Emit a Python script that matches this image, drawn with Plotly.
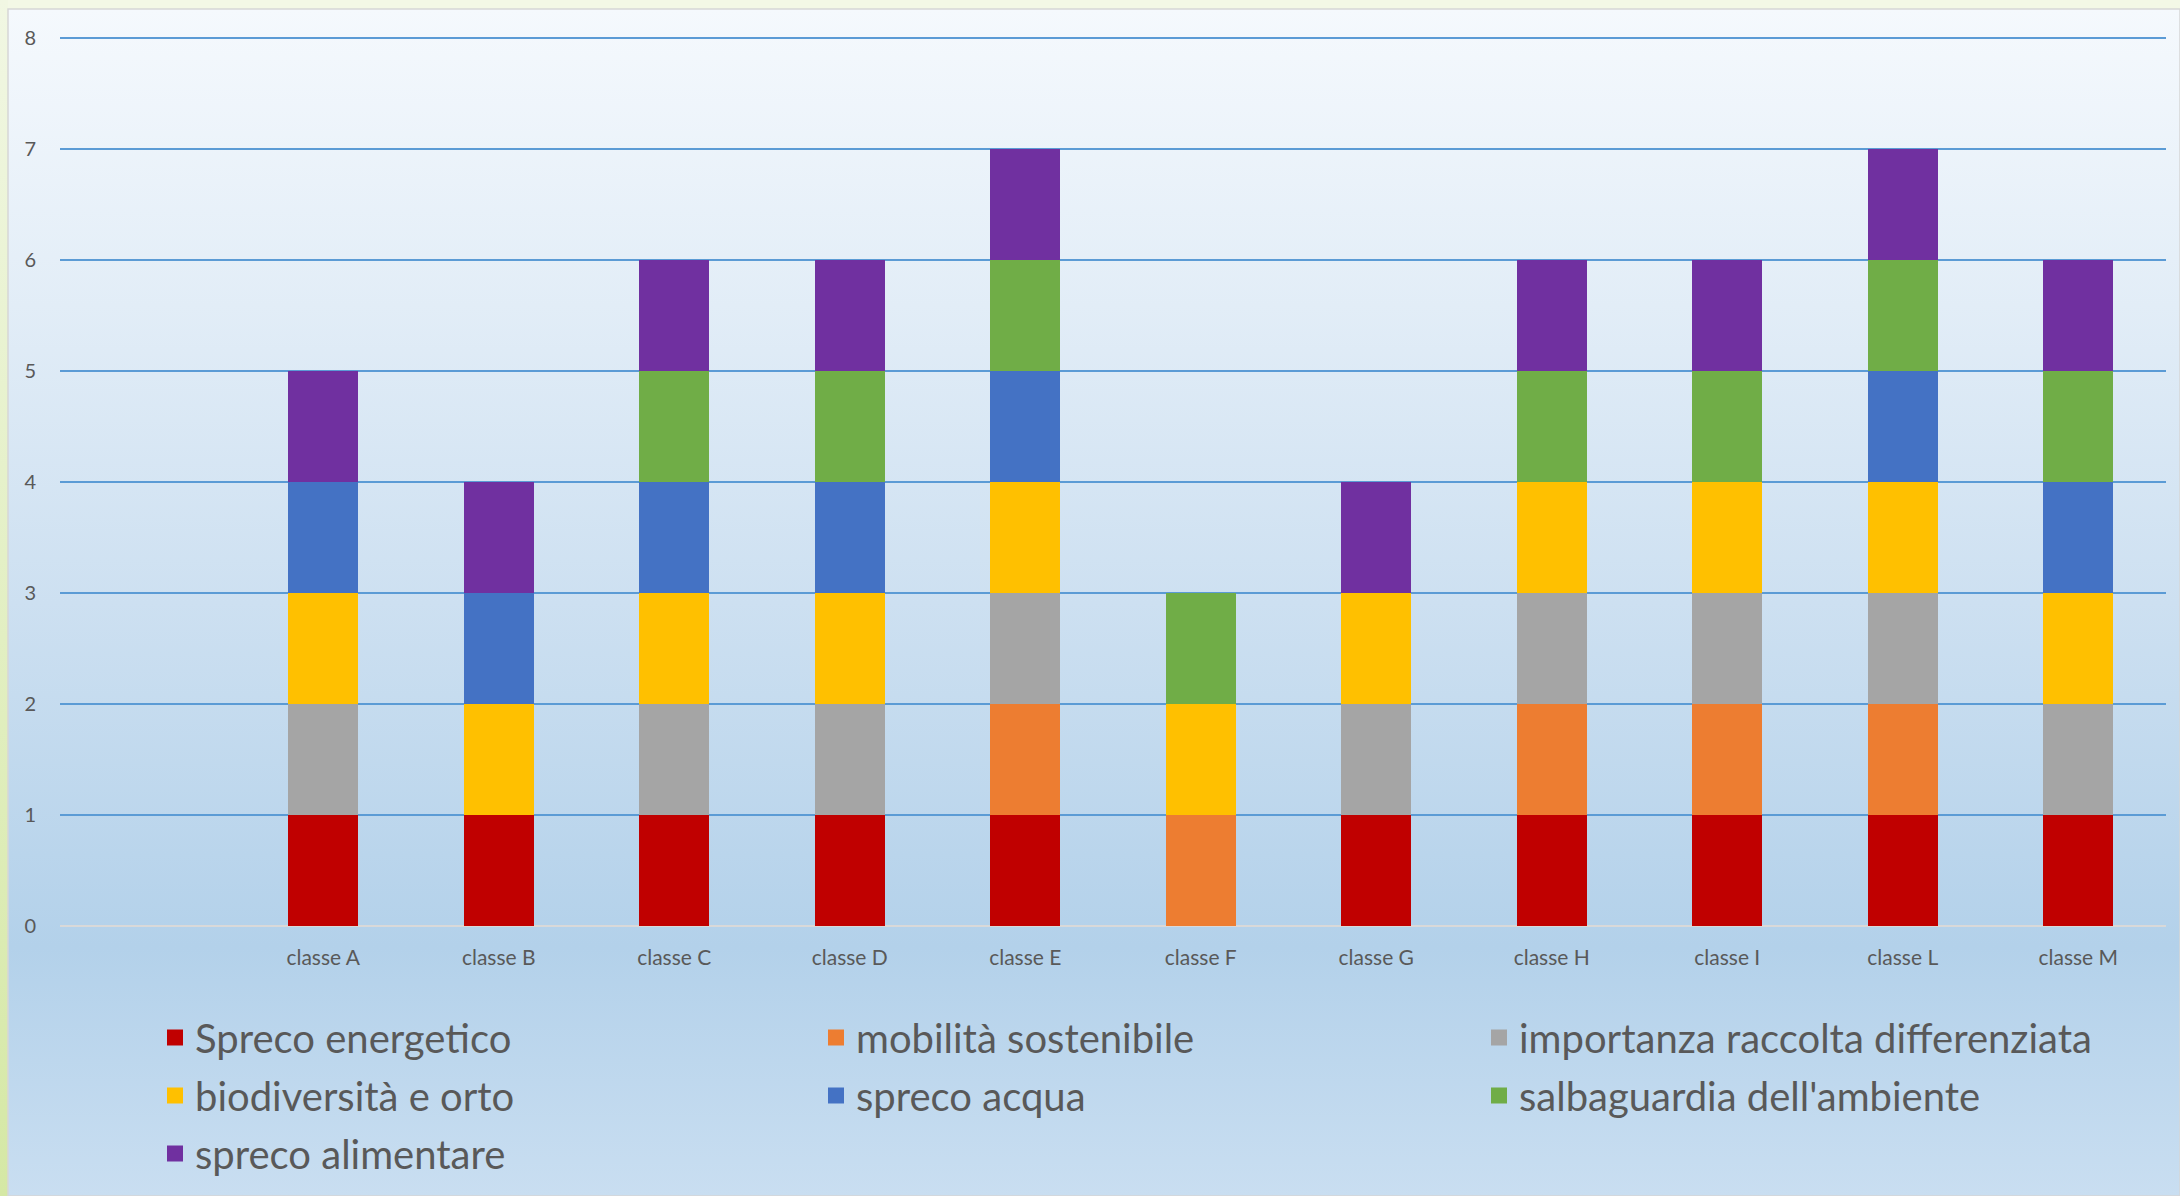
import base64
import plotly.graph_objects as go

categories = ["classe A", "classe B", "classe C", "classe D", "classe E", "classe F",
              "classe G", "classe H", "classe I", "classe L", "classe M"]

spreco_energetico = [1, 1, 1, 1, 1, 0, 1, 1, 1, 1, 1]
mobilita_sostenibile = [0, 0, 0, 0, 1, 1, 0, 1, 1, 1, 0]
raccolta_differenziata = [1, 0, 1, 1, 1, 0, 1, 1, 1, 1, 1]
biodiversita_orto = [1, 1, 1, 1, 1, 1, 1, 1, 1, 1, 1]
spreco_acqua = [1, 1, 1, 1, 1, 0, 0, 0, 0, 1, 1]
salbaguardia_ambiente = [0, 0, 1, 1, 1, 1, 0, 1, 1, 1, 1]
spreco_alimentare = [1, 1, 1, 1, 1, 0, 1, 1, 1, 1, 1]

series_names = ["Spreco energetico", "mobilità sostenibile", "importanza raccolta differenziata",
                "biodiversità e orto", "spreco acqua", "salbaguardia dell'ambiente", "spreco alimentare"]
series_values = [spreco_energetico, mobilita_sostenibile, raccolta_differenziata,
                 biodiversita_orto, spreco_acqua, salbaguardia_ambiente, spreco_alimentare]
series_colors = ["#C00000", "#ED7D31", "#A5A5A5", "#FFC000", "#4472C4", "#70AD47", "#7030A0"]
# legend column for each series (legend laid out row-wise in 3 columns)
legend_column = ["legend", "legend2", "legend3", "legend", "legend2", "legend3", "legend"]

W, H = 2180, 1196
ML, MR, MT, MB = 60, 14, 36, 270
PW, PH = W - ML - MR, H - MT - MB

FONT = "Lato, 'Open Sans', sans-serif"
TXT = "#595959"

fig = go.Figure()
for i, (name, vals, col) in enumerate(zip(series_names, series_values, series_colors)):
    fig.add_trace(go.Bar(
        x=categories, y=[v if v else None for v in vals], name=name,
        marker=dict(color=col, line=dict(width=0)), showlegend=False,
    ))
for i, (name, col, lg) in enumerate(zip(series_names, series_colors, legend_column)):
    fig.add_trace(go.Scatter(
        x=[None], y=[None], mode="markers", name=name, legend=lg, legendgroup=f"g{i}",
        marker=dict(symbol="square", size=24, color=col, line=dict(width=0)),
        showlegend=True, hoverinfo="skip",
    ))

svg = f'''<svg xmlns="http://www.w3.org/2000/svg" width="{W}" height="{H}" viewBox="0 0 {W} {H}" preserveAspectRatio="none">
<defs>
<linearGradient id="p" x1="0" y1="0" x2="0" y2="1">
<stop offset="0" stop-color="#f5f9fd"/>
<stop offset="0.25" stop-color="#e2edf7"/>
<stop offset="0.5" stop-color="#cde0f1"/>
<stop offset="0.79" stop-color="#b3d1ea"/>
<stop offset="1" stop-color="#c9def1"/>
</linearGradient>
<linearGradient id="s" x1="0" y1="0" x2="0" y2="1">
<stop offset="0" stop-color="#f1f7e3"/>
<stop offset="1" stop-color="#d5e8a5"/>
</linearGradient>
</defs>
<rect x="0" y="0" width="{W}" height="{H}" fill="#f3f8e6"/>
<rect x="0" y="0" width="8" height="{H}" fill="url(#s)"/>
<rect x="8" y="9" width="{W-8}" height="{H-9}" fill="url(#p)" stroke="#d6d6d6" stroke-width="1.5"/>
</svg>'''
src = "data:image/svg+xml;base64," + base64.b64encode(svg.encode()).decode()

fig.add_layout_image(dict(
    source=src, xref="paper", yref="paper",
    x=-ML / PW, y=1 + MT / PH, sizex=W / PW, sizey=H / PH,
    xanchor="left", yanchor="top", sizing="stretch", layer="below", opacity=1,
))

def legend_at(px_left):
    return dict(
        orientation="v", xref="container", yref="container",
        x=px_left / W, xanchor="left", y=1 - 1005 / H, yanchor="top",
        font=dict(size=40, color=TXT, family=FONT),
        bgcolor="rgba(0,0,0,0)", traceorder="grouped", tracegroupgap=3,
        itemsizing="trace",
    )

fig.update_layout(
    width=W, height=H,
    margin=dict(l=ML, r=MR, t=MT, b=MB, autoexpand=False),
    barmode="stack", bargap=0.6,
    paper_bgcolor="rgba(0,0,0,0)", plot_bgcolor="rgba(0,0,0,0)",
    font=dict(family=FONT, color=TXT),
    xaxis=dict(
        type="category", range=[-1.5, 10.5], showgrid=False, zeroline=False,
        showline=False, ticks="", tickfont=dict(size=21, color=TXT, family=FONT),
        ticklabelstandoff=17,
    ),
    yaxis=dict(
        range=[0, 8.02], tickvals=[0, 1, 2, 3, 4, 5, 6, 7, 8], showgrid=True,
        gridcolor="#5b9bd5", gridwidth=1.5,
        zeroline=True, zerolinecolor="#d9d9d9", zerolinewidth=2,
        showline=False, ticks="", tickfont=dict(size=20, color=TXT, family=FONT),
        ticklabelstandoff=23,
    ),
    legend=legend_at(155),
    legend2=legend_at(816),
    legend3=legend_at(1479),
    showlegend=True,
)

fig.write_html(
    "out.html",
    config={"displayModeBar": False},
    post_script="document.body.style.margin='0';document.body.style.overflow='hidden';",
)
